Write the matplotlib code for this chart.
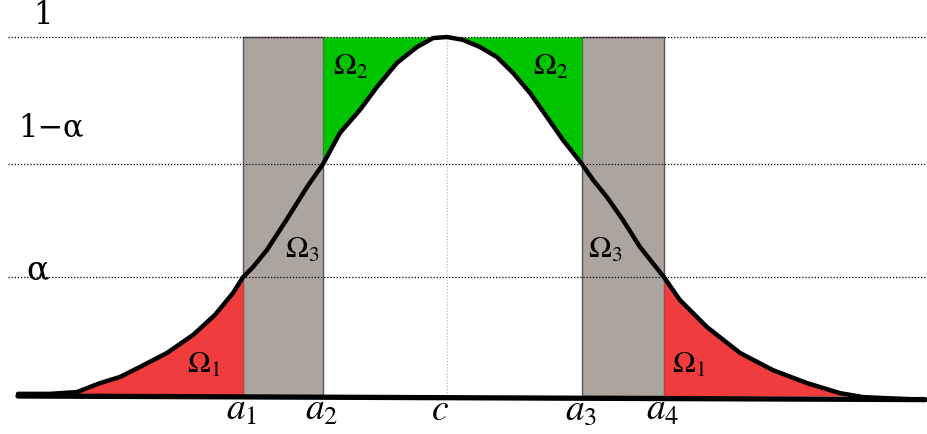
import matplotlib
matplotlib.use("Agg")
import matplotlib.pyplot as plt
import numpy as np

plt.rcParams['mathtext.fontset'] = 'stix'
plt.rcParams['font.family'] = ['DejaVu Serif']

# curve (x in picture units, y as level 0..1)
curve_x = [18, 50, 77, 100, 120, 140, 167, 193, 215, 233, 243, 253, 267, 287, 307,
           323, 340, 360, 377, 397, 417, 433, 447, 463, 480, 497, 513, 530, 547,
           563, 582, 593, 607, 623, 640, 664, 680, 707, 740, 773, 807, 840, 863, 925]
curve_y = [0.006, 0.006, 0.011, 0.036, 0.053, 0.081, 0.120, 0.170, 0.226, 0.287,
           0.331, 0.359, 0.407, 0.493, 0.582, 0.646, 0.733, 0.797, 0.861, 0.928,
           0.972, 0.997, 1.0, 0.992, 0.972, 0.944, 0.900, 0.844, 0.777, 0.713,
           0.646, 0.602, 0.554, 0.490, 0.415, 0.331, 0.267, 0.192, 0.120, 0.072,
           0.036, 0.008, -0.003, -0.011]

a_pos = [243, 323, 582, 664]          # a1, a2, a3, a4
c_pos = 447
alpha = 0.331
one_minus_alpha = 0.646
levels = [1.0, one_minus_alpha, alpha]
level_labels = ['1', '1\u2212\u03b1', '\u03b1']
a_labels = [r'$a_1$', r'$a_2$', r'$a_3$', r'$a_4$']

cx = np.array(curve_x, dtype=float)
cy = np.array(curve_y, dtype=float)

fig = plt.figure(figsize=(9.27, 4.34), dpi=100)
ax = fig.add_axes([0, 0, 1, 1])
ax.set_xlim(0, 927)
ax.set_ylim((396 - 434) / 359, 396 / 359)
ax.axis('off')

# grey bands
for lo, hi in [(a_pos[0], a_pos[1]), (a_pos[2], a_pos[3])]:
    ax.fill_between([lo, hi], 0, 1, color='#aca59f', edgecolor='#5e5260', linewidth=1.0, zorder=1)

# red tails
m = (cx <= a_pos[0]) & (cx >= 77)
ax.fill_between(cx[m], 0, cy[m], color='#f03c3c', linewidth=0, zorder=1)
m = (cx >= a_pos[3]) & (cx <= 863)
ax.fill_between(cx[m], 0, cy[m], color='#f03c3c', linewidth=0, zorder=1)

# green caps
m = (cx >= a_pos[1]) & (cx <= a_pos[2])
ax.fill_between(cx[m], cy[m], 1, color='#00c400', linewidth=0, zorder=1)

# dotted level lines
for lv in levels:
    ax.plot([8, 927], [lv, lv], color='black', linestyle=(0, (1, 1.5)), linewidth=0.9, zorder=2)
ax.plot([c_pos, c_pos], [0, 1], color='#b8b8b8', linestyle=(0, (1, 1.5)), linewidth=0.9, zorder=2)

# baseline and curve
ax.plot([18, 925], [0, -0.01], color='black', linewidth=3.8, solid_capstyle='round', zorder=3)
ax.plot(cx, cy, color='black', linewidth=3.2, solid_joinstyle='round',
        solid_capstyle='round', zorder=4)

# level labels
ax.text(43, 1.06, level_labels[0], fontsize=22, ha='center', va='center')
ax.text(18, 0.746, level_labels[1], fontsize=22, ha='left', va='center')
ax.text(26, 0.35, level_labels[2], fontsize=24, ha='left', va='center')

# a labels
for xp, lab in zip(a_pos, a_labels):
    ax.text(xp - 1, -0.067, lab, fontsize=27, ha='center', va='baseline')
ax.text(c_pos - 7, -0.067, r'$c$', fontsize=27, ha='center', va='baseline')

# Omega labels
omega_pos = [(187, 0.064, 1), (672, 0.064, 1), (333, 0.894, 2),
             (533, 0.894, 2), (285, 0.384, 3), (588, 0.384, 3)]
for xp, yp, k in omega_pos:
    ax.text(xp, yp, r'$\Omega_%d$' % k, fontsize=22, ha='left', va='baseline')

fig.savefig('out.png', dpi=100)
